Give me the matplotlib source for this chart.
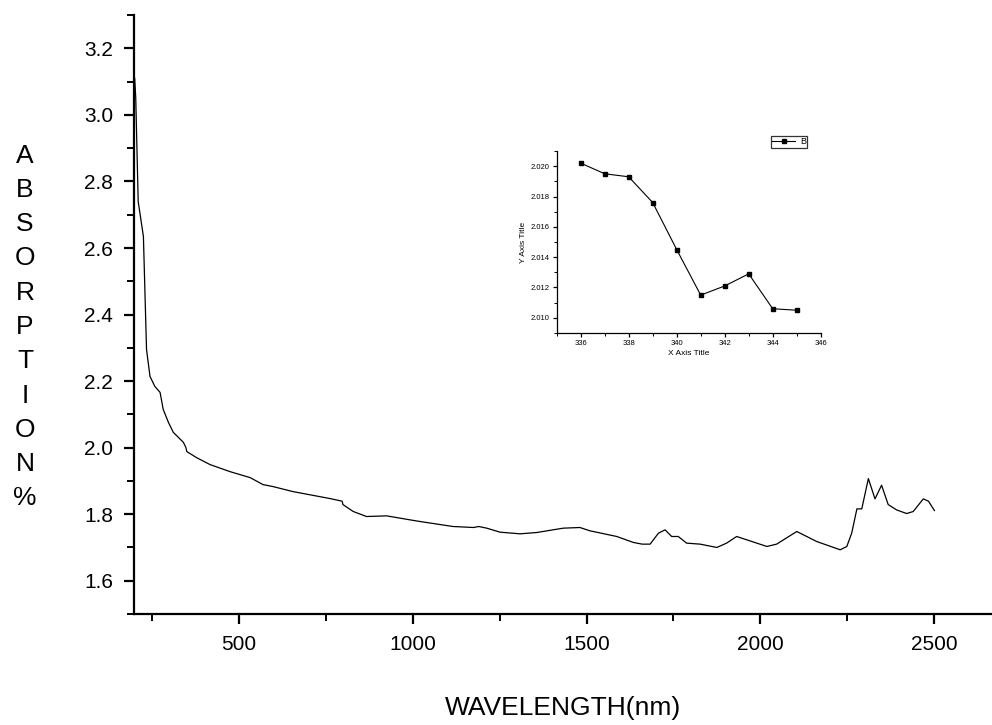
import matplotlib
matplotlib.use('Agg')
import matplotlib.pyplot as plt
from matplotlib.ticker import MultipleLocator

plt.rcParams['font.family'] = ['Liberation Sans', 'DejaVu Sans']

# main spectrum
wavelength = [200, 203, 210, 225, 234, 244, 258, 273, 282, 297, 311, 340, 347, 350, 378,
              417, 474, 532, 569, 598, 655, 762, 797, 799, 829, 867, 925, 992, 1021, 1116,
              1175, 1190, 1213, 1251, 1309, 1357, 1433, 1481, 1510, 1587, 1635, 1660, 1683,
              1707, 1726, 1745, 1764, 1788, 1827, 1875, 1903, 1932, 1961, 2019, 2047, 2105,
              2162, 2230, 2249, 2263, 2278, 2292, 2311, 2330, 2349, 2368, 2392, 2421, 2440,
              2469, 2484, 2501]
absorption = [3.11, 3.05, 2.74, 2.635, 2.295, 2.214, 2.184, 2.166, 2.115, 2.076, 2.046, 2.016,
              2.001, 1.988, 1.970, 1.949, 1.928, 1.910, 1.889, 1.883, 1.868, 1.847, 1.839, 1.829,
              1.808, 1.793, 1.795, 1.783, 1.778, 1.763, 1.760, 1.763, 1.758, 1.746, 1.741, 1.745,
              1.758, 1.760, 1.750, 1.733, 1.715, 1.710, 1.710, 1.743, 1.753, 1.733, 1.733, 1.713,
              1.710, 1.700, 1.713, 1.733, 1.723, 1.703, 1.710, 1.748, 1.718, 1.693, 1.703, 1.743,
              1.816, 1.816, 1.907, 1.846, 1.887, 1.829, 1.813, 1.802, 1.808, 1.846, 1.839, 1.811]

# inset series B
inset_x = [336, 337, 338, 339, 340, 341, 342, 343, 344, 345]
inset_y = [2.0202, 2.0195, 2.0193, 2.0176, 2.0145, 2.0115, 2.0121, 2.0129, 2.0106, 2.0105]

fig = plt.figure(figsize=(9.92, 7.25), dpi=100)
ax = fig.add_axes([0.1351, 0.1531, 0.865, 0.826])

ax.plot(wavelength, absorption, color='black', lw=0.9)
ax.set_xlim(198, 2667)
ax.set_ylim(1.5, 3.3)
ax.xaxis.set_major_locator(MultipleLocator(500))
ax.xaxis.set_minor_locator(MultipleLocator(250))
ax.yaxis.set_major_locator(MultipleLocator(0.2))
ax.yaxis.set_minor_locator(MultipleLocator(0.1))
ax.yaxis.set_major_formatter(plt.FormatStrFormatter('%.1f'))
for s in ['top', 'right']:
    ax.spines[s].set_visible(False)
for s in ['left', 'bottom']:
    ax.spines[s].set_linewidth(1.6)
ax.tick_params(which='major', direction='out', length=7, width=1.6, labelsize=15, pad=8)
ax.tick_params(which='minor', direction='out', length=5, width=1.4)

ax.set_xlabel('WAVELENGTH(nm)', fontsize=19, labelpad=30)
fig.text(25 / 992, 1 - 327 / 725, '\n'.join('ABSORPTION%'), fontsize=19,
         ha='center', va='center', linespacing=1.54)

# inset
ins = fig.add_axes([0.5612, 0.5407, 0.2661, 0.2510])
ins.plot(inset_x, inset_y, color='black', lw=0.8, marker='s', ms=3.5, label='B')
ins.set_xlim(335, 346)
ins.set_ylim(2.009, 2.021)
ins.xaxis.set_major_locator(MultipleLocator(2))
ins.xaxis.set_minor_locator(MultipleLocator(1))
ins.yaxis.set_major_locator(MultipleLocator(0.002))
ins.yaxis.set_minor_locator(MultipleLocator(0.001))
ins.yaxis.set_major_formatter(plt.FormatStrFormatter('%.3f'))
for s in ['top', 'right']:
    ins.spines[s].set_visible(False)
for s in ['left', 'bottom']:
    ins.spines[s].set_linewidth(0.9)
ins.tick_params(which='major', direction='out', length=3, width=0.9, labelsize=5.5, pad=2)
ins.tick_params(which='minor', direction='out', length=2, width=0.7)
ins.set_xlabel('X Axis Title', fontsize=6, labelpad=2)
ins.set_ylabel('Y Axis Title', fontsize=6, labelpad=3)
leg = ins.legend(loc='center', bbox_to_anchor=(0.88, 1.05), fontsize=6.5, frameon=True,
                 fancybox=False, edgecolor='black', handlelength=2.6, borderpad=0.15,
                 handletextpad=0.5, borderaxespad=0)
leg.get_frame().set_linewidth(0.9)

fig.savefig('out.png', dpi=100)
